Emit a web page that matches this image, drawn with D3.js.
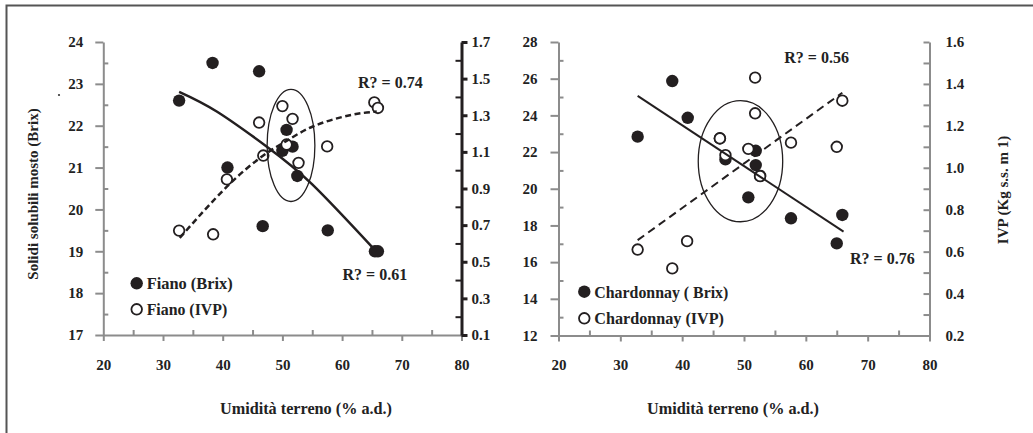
<!DOCTYPE html>
<html>
<head>
<meta charset="utf-8">
<script src="https://cdn.jsdelivr.net/npm/d3@7"></script>
<style>
body { margin: 0; background: #fff; }
svg text { font-family: "Liberation Serif", "Times New Roman", serif; font-weight: bold; fill: #222; }
</style>
</head>
<body>
<div id="chart"></div>
<script>
// ---- data ----
const xTicks = [20, 30, 40, 50, 60, 70, 80];

// Fiano
const fianoBrixX = [32.7, 38.3, 46.1, 40.8, 50.7, 50.0, 51.7, 52.5, 46.7, 57.6, 65.5, 66.0];
const fianoBrix  = [22.6, 23.5, 23.3, 21.0, 21.9, 21.4, 21.5, 20.8, 19.6, 19.5, 19.0, 19.0];
const fianoIvpX  = [32.7, 38.4, 40.7, 46.8, 46.1, 50.0, 50.7, 51.7, 52.7, 57.5, 65.4, 66.0];
const fianoIvp   = [0.67, 0.65, 0.95, 1.08, 1.26, 1.35, 1.14, 1.28, 1.04, 1.13, 1.37, 1.34];
const fianoBrixTrendX = [32.7, 39.0, 47.4, 55.0, 65.7];
const fianoBrixTrend  = [22.81, 22.34, 21.5, 20.6, 19.0];
const fianoIvpTrendX  = [32.8, 40.7, 46.8, 50.7, 55.2, 61.3, 65.8];
const fianoIvpTrend   = [0.63, 0.91, 1.08, 1.16, 1.24, 1.30, 1.32];
const fianoBrixTicks = [17, 18, 19, 20, 21, 22, 23, 24];
const fianoIvpTicks  = [0.1, 0.3, 0.5, 0.7, 0.9, 1.1, 1.3, 1.5, 1.7];
const fianoR2 = ["R? = 0.74", "R? = 0.61"];

// Chardonnay
const chardBrixX = [32.8, 38.4, 40.9, 46.1, 47.0, 51.9, 51.9, 52.6, 50.7, 57.6, 65.9, 65.0];
const chardBrix  = [22.84, 25.87, 23.87, 22.75, 21.6, 22.07, 21.29, 20.7, 19.53, 18.39, 18.57, 17.02];
const chardIvpX  = [32.8, 38.4, 40.8, 46.1, 47.0, 51.8, 51.8, 50.7, 52.6, 57.6, 65.9, 65.0];
const chardIvp   = [0.61, 0.52, 0.65, 1.14, 1.06, 1.43, 1.26, 1.09, 0.96, 1.12, 1.32, 1.10];
const chardBrixTrendX = [32.8, 66.1];
const chardBrixTrend  = [25.06, 17.66];
const chardIvpTrendX  = [32.8, 65.9];
const chardIvpTrend   = [0.655, 1.358];
const chardBrixTicks = [12, 14, 16, 18, 20, 22, 24, 26, 28];
const chardIvpTicks  = [0.2, 0.4, 0.6, 0.8, 1.0, 1.2, 1.4, 1.6];
const chardR2 = ["R? = 0.56", "R? = 0.76"];

// circled groups: [centre x, centre brix, radius x, radius brix]
const fianoEllipse = [51.44, 21.53, 4.0, 1.34];
const chardEllipse = [49.43, 21.5, 6.83, 3.3];

const width = 1033, height = 433;
const svg = d3.select("#chart").append("svg")
    .attr("width", width)
    .attr("height", height);

const grey = "#8c8c8c";

// frame
svg.append("path")
    .attr("d", "M6.5,433 V5.5 H1033")
    .attr("fill", "none")
    .attr("stroke", "#555")
    .attr("stroke-width", 2);
svg.append("circle").attr("cx", 59).attr("cy", 95).attr("r", 1.1).attr("fill", "#333");

const zip = (xs, ys) => xs.map((d, i) => ({x: d, y: ys[i]}));

function drawPanel(p)
{
    const x = d3.scaleLinear().domain([20, 80]).range([p.left, p.right]);
    const yL = d3.scaleLinear().domain(p.brixDomain).range([p.bottom, p.top]);
    const yR = d3.scaleLinear().domain(p.ivpDomain).range([p.bottom, p.top]);
    const g = svg.append("g");

    const styleAxis = (sel, color, w) => {
        sel.selectAll("path,line").attr("stroke", color).attr("stroke-width", w);
        sel.selectAll("text").attr("font-size", 15).attr("fill", "#222");
        sel.attr("font-family", null).attr("font-size", null);
    };

    // x axis
    const xMinor = d3.range(25, 80, 10);
    g.append("g").attr("transform", `translate(0,${p.bottom})`)
        .call(d3.axisTop(x).tickValues(xMinor).tickSize(5).tickSizeOuter(0).tickFormat(""))
        .call(s => s.select(".domain").remove())
        .call(s => styleAxis(s, grey, 2));
    g.append("g").attr("transform", `translate(0,${p.bottom})`)
        .call(d3.axisBottom(x).tickValues(xTicks).tickSize(6).tickSizeOuter(0).tickPadding(18))
        .call(s => styleAxis(s, grey, 2));

    // left axis
    g.append("g").attr("transform", `translate(${p.left},0)`)
        .call(d3.axisRight(yL).tickValues(p.brixMinor).tickSize(5).tickSizeOuter(0).tickFormat(""))
        .call(s => s.select(".domain").remove())
        .call(s => styleAxis(s, grey, 2));
    g.append("g").attr("transform", `translate(${p.left},0)`)
        .call(d3.axisLeft(yL).tickValues(p.brixTicks).tickSize(8).tickSizeOuter(0)
            .tickPadding(p.leftPad).tickFormat(d3.format("d")))
        .call(s => styleAxis(s, grey, 2));

    // right axis
    g.append("g").attr("transform", `translate(${p.right},0)`)
        .call(d3.axisLeft(yR).tickValues(p.ivpMinor).tickSize(6).tickSizeOuter(0).tickFormat(""))
        .call(s => s.select(".domain").remove())
        .call(s => styleAxis(s, p.rightColor, 2));
    g.append("g").attr("transform", `translate(${p.right},0)`)
        .call(d3.axisRight(yR).tickValues(p.ivpTicks).tickSize(p.rightTick).tickSizeOuter(0)
            .tickPadding(p.rightPad).tickFormat(d3.format(".1f")))
        .call(s => styleAxis(s, p.rightColor, p.rightWidth));

    // points
    g.selectAll(".brix").data(zip(p.brixX, p.brix)).join("circle")
        .attr("cx", d => x(d.x)).attr("cy", d => yL(d.y)).attr("r", 6.2)
        .attr("fill", "#231f20");
    g.selectAll(".ivp").data(zip(p.ivpX, p.ivp)).join("circle")
        .attr("cx", d => x(d.x)).attr("cy", d => yR(d.y)).attr("r", 5.3)
        .attr("fill", "#fff").attr("stroke", "#231f20").attr("stroke-width", 1.8);

    // trend lines
    const lineL = d3.line().x(d => x(d.x)).y(d => yL(d.y)).curve(d3.curveNatural);
    const lineR = d3.line().x(d => x(d.x)).y(d => yR(d.y)).curve(d3.curveNatural);
    g.append("path").attr("d", lineL(zip(p.brixTrendX, p.brixTrend)))
        .attr("fill", "none").attr("stroke", "#231f20").attr("stroke-width", p.trendWidth);
    g.append("path").attr("d", lineR(zip(p.ivpTrendX, p.ivpTrend)))
        .attr("fill", "none").attr("stroke", "#231f20").attr("stroke-width", p.trendWidth)
        .attr("stroke-dasharray", p.dash);

    // ellipse
    const e = p.ellipse;
    g.append("ellipse")
        .attr("cx", x(e[0])).attr("cy", yL(e[1]))
        .attr("rx", x(e[0] + e[2]) - x(e[0]))
        .attr("ry", yL(e[1] - e[3]) - yL(e[1]))
        .attr("fill", "none").attr("stroke", "#231f20").attr("stroke-width", 1.3);

    // R² labels
    p.r2.forEach((t, i) => {
        g.append("text").attr("x", p.r2Pos[i][0]).attr("y", p.r2Pos[i][1])
            .attr("font-size", 16).text(t);
    });

    // legend
    p.legend.forEach((t, i) => {
        const ly = p.legendPos[1] + i * p.legendGap;
        const m = g.append("circle").attr("cx", p.legendPos[0]).attr("cy", ly);
        if (i === 0) m.attr("r", 6.2).attr("fill", "#231f20");
        else m.attr("r", 5.3).attr("fill", "#fff").attr("stroke", "#231f20").attr("stroke-width", 1.8);
        g.append("text").attr("x", p.legendPos[0] + 10).attr("y", ly + 6)
            .attr("font-size", 17.5)
            .attr("textLength", p.legendLen[i]).attr("lengthAdjust", "spacingAndGlyphs")
            .text(t);
    });

    // axis titles
    g.append("text").attr("x", p.xTitle[0]).attr("y", p.xTitle[1])
        .attr("text-anchor", "middle").attr("font-size", 17)
        .attr("textLength", 172).attr("lengthAdjust", "spacingAndGlyphs")
        .text("Umidità terreno (% a.d.)");
    g.append("text").attr("transform", `translate(${p.yTitle[0]},${p.yTitle[1]}) rotate(-90)`)
        .attr("text-anchor", "middle").attr("font-size", 15).text(p.yTitleText);
}

drawPanel({
    left: 103.3, right: 461.5, top: 42, bottom: 335,
    brixDomain: [17, 24], ivpDomain: [0.1, 1.7],
    brixTicks: fianoBrixTicks, brixMinor: d3.range(17.5, 24, 1),
    ivpTicks: fianoIvpTicks, ivpMinor: d3.range(0.2, 1.7, 0.2),
    leftPad: 12, rightPad: 4, rightTick: 6, rightColor: "#231f20", rightWidth: 3,
    brixX: fianoBrixX, brix: fianoBrix, ivpX: fianoIvpX, ivp: fianoIvp,
    brixTrendX: fianoBrixTrendX, brixTrend: fianoBrixTrend,
    ivpTrendX: fianoIvpTrendX, ivpTrend: fianoIvpTrend,
    trendWidth: 2.5, dash: "6,3.5",
    ellipse: fianoEllipse,
    r2: fianoR2, r2Pos: [[358, 88], [342.5, 280]],
    legend: ["Fiano (Brix)", "Fiano (IVP)"], legendPos: [136.7, 283.3], legendGap: 26,
    legendLen: [86, 80.5],
    xTitle: [306, 414],
    yTitle: [38, 194], yTitleText: "Solidi solubili mosto (Brix)"
});

drawPanel({
    left: 558.5, right: 929.5, top: 42, bottom: 335.5,
    brixDomain: [12, 28], ivpDomain: [0.2, 1.6],
    brixTicks: chardBrixTicks, brixMinor: d3.range(13, 28, 2),
    ivpTicks: chardIvpTicks, ivpMinor: d3.range(0.3, 1.6, 0.2),
    leftPad: 13, rightPad: 16, rightTick: -6, rightColor: grey, rightWidth: 2,
    brixX: chardBrixX, brix: chardBrix, ivpX: chardIvpX, ivp: chardIvp,
    brixTrendX: chardBrixTrendX, brixTrend: chardBrixTrend,
    ivpTrendX: chardIvpTrendX, ivpTrend: chardIvpTrend,
    trendWidth: 2, dash: "8,5",
    ellipse: chardEllipse,
    r2: chardR2, r2Pos: [[784.3, 63], [850, 264]],
    legend: ["Chardonnay ( Brix)", "Chardonnay (IVP)"], legendPos: [584.3, 291.7], legendGap: 26.6,
    legendLen: [134, 129.7],
    xTitle: [733, 414],
    yTitle: [1008, 190], yTitleText: "IVP (Kg s.s. m 1)"
});
</script>
</body>
</html>
